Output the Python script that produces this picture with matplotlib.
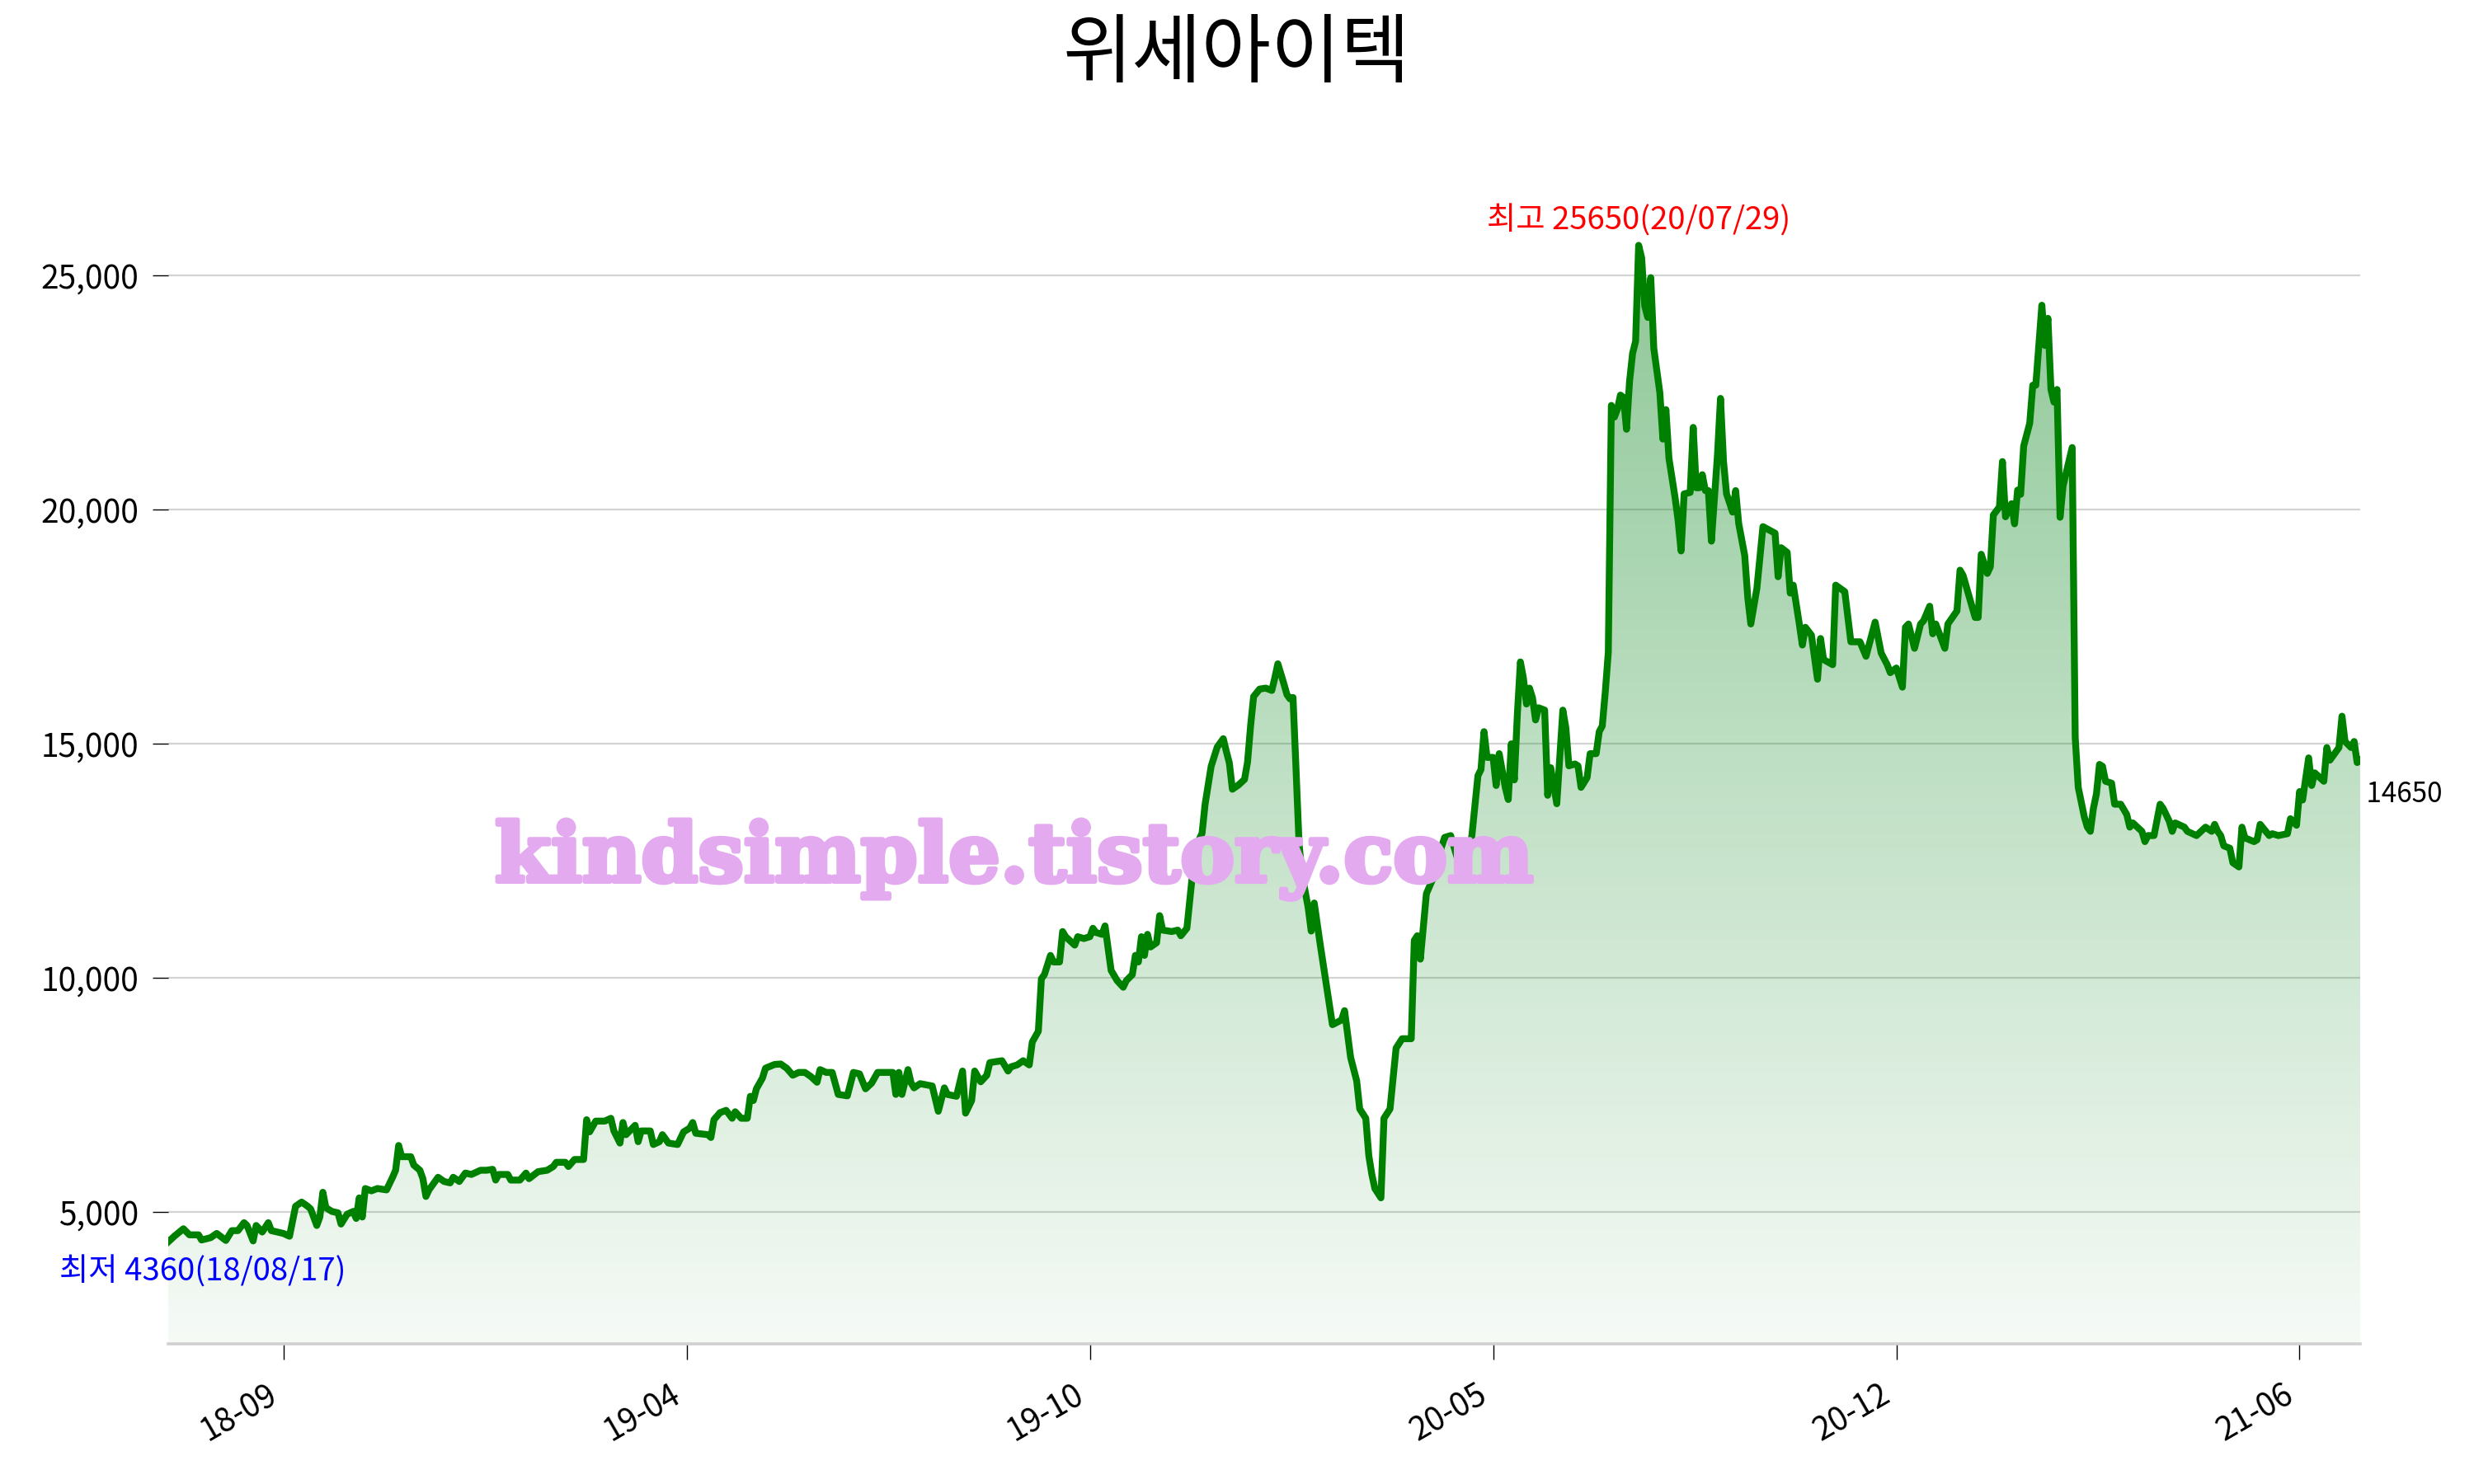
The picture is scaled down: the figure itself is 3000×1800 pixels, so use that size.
import numpy as np
import matplotlib
matplotlib.use('Agg')
import matplotlib.pyplot as plt
import matplotlib.patheffects as pe
from matplotlib.ticker import FuncFormatter

plt.rcParams['font.family'] = ['Noto Sans CJK KR', 'DejaVu Sans']

title = '위세아이텍'
watermark = 'kindsimple.tistory.com'
hi_date = '20/07/29'
lo_date = '18/08/17'

# trading-day index and closing price
days = [
    0, 2, 5, 7, 10, 11, 14, 16, 19, 21, 23, 25, 26, 28, 29, 31, 33, 34, 38, 40,
    42, 44, 46, 47, 49, 50, 51, 52, 54, 56, 57, 59, 61, 62, 63, 64, 65, 67, 69, 72,
    74, 75, 76, 77, 80, 81, 83, 84, 85, 86, 89, 91, 93, 94, 96, 98, 100, 103, 105, 107,
    108, 109, 112, 113, 116, 118, 119, 122, 125, 127, 128, 131, 132, 134, 137, 138, 139, 141, 144, 146,
    147, 149, 150, 151, 154, 155, 156, 159, 160, 162, 163, 165, 168, 170, 172, 173, 174, 178, 179, 180,
    182, 184, 186, 187, 189, 191, 192, 193, 194, 196, 197, 200, 202, 204, 206, 208, 210, 212, 214, 215,
    217, 219, 221, 224, 226, 228, 230, 232, 234, 236, 239, 240, 241, 242, 244, 245, 246, 248, 252, 254,
    256, 257, 260, 262, 263, 265, 266, 268, 270, 271, 275, 277, 278, 280, 282, 284, 285, 287, 288, 289,
    291, 292, 294, 295, 296, 299, 300, 302, 304, 305, 306, 308, 309, 311, 313, 315, 316, 318, 319, 320,
    321, 322, 323, 324, 326, 327, 328, 331, 333, 334, 336, 337, 338, 340, 341, 342, 344, 346, 348, 349,
    350, 351, 353, 355, 356, 357, 358, 360, 362, 364, 365, 366, 368, 369, 370, 371, 372, 373, 374, 376,
    377, 378, 380, 384, 387, 388, 390, 392, 393, 395, 396, 397, 398, 400, 401, 403, 405, 407, 410, 411,
    412, 413, 415, 417, 419, 421, 423, 425, 427, 429, 430, 432, 433, 434, 435, 437, 438, 439, 441, 442,
    443, 444, 445, 446, 447, 448, 449, 450, 451, 452, 454, 455, 456, 458, 460, 461, 462, 464, 465, 466,
    468, 469, 471, 472, 473, 474, 475, 476, 477, 478, 479, 480, 481, 482, 483, 484, 485, 486, 487, 488,
    489, 490, 492, 493, 494, 495, 497, 498, 499, 500, 502, 503, 504, 505, 506, 507, 508, 509, 511, 512,
    513, 514, 516, 517, 518, 520, 521, 522, 524, 526, 528, 530, 531, 532, 534, 535, 536, 538, 539, 540,
    542, 544, 545, 546, 549, 550, 553, 555, 558, 560, 563, 565, 567, 568, 570, 572, 573, 574, 576, 578,
    579, 581, 582, 583, 586, 587, 590, 591, 592, 596, 597, 598, 600, 601, 602, 604, 605, 606, 608, 609,
    610, 611, 612, 614, 615, 616, 618, 619, 620, 621, 622, 623, 624, 625, 628, 629, 630, 632, 633, 634,
    635, 636, 637, 638, 639, 641, 642, 644, 646, 647, 648, 651, 652, 653, 655, 657, 658, 660, 661, 662,
    665, 666, 669, 672, 674, 675, 676, 677, 678, 680, 681, 683, 684, 685, 688, 689, 690, 693, 694, 696,
    699, 700, 702, 703, 704, 706, 707, 708, 711, 712, 713, 714, 716, 717, 718, 720, 721, 722, 723,
]
prices = [
    4360, 4480, 4640, 4510, 4510, 4400, 4450, 4540, 4390, 4600, 4600, 4770, 4710, 4380, 4710, 4570, 4770, 4600, 4540, 4480,
    5120, 5210, 5120, 5060, 4710, 4890, 5420, 5090, 5010, 4980, 4740, 4950, 5010, 4860, 5300, 4890, 5500, 5450, 5500, 5470,
    5740, 5890, 6420, 6180, 6180, 6000, 5890, 5710, 5330, 5470, 5740, 5650, 5620, 5740, 5650, 5830, 5800, 5890, 5890, 5910,
    5680, 5800, 5800, 5680, 5680, 5830, 5710, 5860, 5890, 5970, 6060, 6060, 5970, 6120, 6120, 6970, 6710, 6940, 6940, 7000,
    6730, 6470, 6910, 6650, 6850, 6500, 6730, 6730, 6440, 6500, 6650, 6470, 6440, 6710, 6790, 6910, 6680, 6650, 6590, 6970,
    7120, 7170, 7000, 7140, 7000, 7000, 7470, 7380, 7630, 7860, 8070, 8150, 8160, 8070, 7920, 7980, 7980, 7890, 7770, 8040,
    7980, 7980, 7510, 7480, 7980, 7950, 7630, 7750, 7980, 7980, 7980, 7510, 7980, 7510, 8040, 7760, 7650, 7740, 7690, 7150,
    7650, 7510, 7470, 8010, 7110, 7380, 8010, 7780, 7920, 8190, 8230, 8010, 8100, 8140, 8230, 8140, 8630, 8860, 9980, 10070,
    10480, 10340, 10340, 10990, 10880, 10700, 10880, 10840, 10880, 11060, 10970, 10930, 11110, 10160, 9940, 9800, 9940, 10070, 10480, 10340,
    10880, 10480, 10930, 10660, 10750, 11330, 11020, 10990, 11020, 10900, 11060, 11690, 12320, 12950, 13090, 13710, 14520, 14930, 15110, 14840,
    14590, 14030, 14120, 14240, 14610, 15380, 16010, 16170, 16190, 16140, 16410, 16710, 16280, 16050, 15960, 15990, 14450, 12860, 12200, 11500,
    11000, 11600, 10700, 9000, 9100, 9300, 8300, 7800, 7200, 7000, 6200, 5800, 5500, 5300, 7000, 7200, 8500, 8700, 8700, 10800,
    10900, 10400, 11800, 12100, 12600, 13000, 13040, 12600, 12300, 12700, 13040, 14320, 14450, 15260, 14710, 14710, 14110, 14790, 14070, 13810,
    15000, 14230, 15640, 16750, 16400, 15850, 16190, 15980, 15510, 15770, 15720, 13900, 14490, 13720, 15720, 15340, 14530, 14570, 14530, 14070,
    14280, 14790, 14790, 15260, 15380, 16110, 16960, 22230, 21980, 22150, 22450, 22400, 21720, 22740, 23340, 23600, 25650, 25380, 24360, 24110,
    24960, 23450, 22500, 21510, 22140, 21100, 20270, 19780, 19120, 20340, 20370, 21760, 20470, 20470, 20750, 20410, 20410, 19330, 21170, 22380,
    21030, 20340, 19950, 20410, 19710, 19020, 18120, 17560, 18320, 19640, 19570, 19500, 18570, 19190, 19090, 18220, 18390, 17560, 17110, 17490,
    17320, 16380, 17250, 16800, 16690, 18390, 18250, 17180, 17180, 16870, 17600, 16940, 16690, 16520, 16620, 16210, 17490, 17560, 17040, 17560,
    17630, 17940, 17350, 17560, 17040, 17560, 17840, 18710, 18600, 17700, 17700, 19050, 18640, 18780, 19890, 20060, 21030, 19850, 20130, 19700,
    20420, 20330, 21360, 21850, 22660, 22660, 24370, 23510, 24090, 22570, 22300, 22570, 19840, 20510, 21330, 15140, 14070, 13440, 13220, 13130,
    13620, 13930, 14560, 14520, 14200, 14160, 13710, 13710, 13490, 13220, 13310, 13130, 12910, 13040, 13040, 13710, 13620, 13350, 13130, 13310,
    13220, 13130, 13040, 13220, 13130, 13280, 13130, 13040, 12820, 12770, 12460, 12370, 13220, 12990, 12910, 12950, 13280, 13040, 13080, 13040,
    13080, 13400, 13260, 13980, 13800, 14700, 14110, 14380, 14200, 14920, 14650, 14740, 14920, 15590, 15050, 14920, 15050, 14600, 14650,
]

tick_days = [38, 171, 304, 437, 570, 703]
tick_labels = ['18-09', '19-04', '19-10', '20-05', '20-12', '21-06']
y_ticks = [5000, 10000, 15000, 20000, 25000]

days = np.array(days)
prices = np.array(prices)

hi = prices.max()
lo = prices.min()
ymin, ymax = lo * 0.5, hi * 1.1

fig = plt.figure(figsize=(15, 9), dpi=200)
ax = fig.add_axes([0.068, 0.0944, 0.886, 0.8212])

# gradient fill under the line
fill = ax.fill_between(days, prices, ymin, facecolor='none', edgecolor='none')
t = np.linspace(0, 1, 256)
grad = np.zeros((256, 1, 4))
grad[:, 0, 0] = 0.02
grad[:, 0, 1] = 0.52
grad[:, 0, 2] = 0.10
grad[:, 0, 3] = 0.04 + 0.46 * t
img = ax.imshow(grad, extent=[days[0], days[-1], ymin, ymax], origin='lower',
                aspect='auto', zorder=1)
img.set_clip_path(fill.get_paths()[0], transform=ax.transData)

ax.plot(days, prices, color='green', lw=3.0, zorder=3, solid_joinstyle='round')

ax.set_xlim(days[0], days[-1])
ax.set_ylim(ymin, ymax)

ax.set_yticks(y_ticks)
ax.yaxis.set_major_formatter(FuncFormatter(lambda v, p: f'{int(v):,}'))
ax.grid(axis='y', color='#d3d3d3', lw=0.8, zorder=0)
ax.set_axisbelow(True)

ax.set_xticks(tick_days)
ax.set_xticklabels(tick_labels, rotation=30, ha='right')
ax.tick_params(axis='x', length=7, width=0.5, pad=8, labelsize=14)
ax.tick_params(axis='y', length=7, width=0.5, pad=6, labelsize=14)

for s in ['top', 'right', 'left']:
    ax.spines[s].set_visible(False)
ax.spines['bottom'].set_color('#d0d0d0')
ax.spines['bottom'].set_linewidth(1.3)

i_hi = prices.argmax()
i_lo = prices.argmin()
ax.text(days[i_hi], hi * 1.02, f'최고 {hi}({hi_date})', color='red', fontsize=13.8,
        ha='center', va='center')
ax.annotate(f'최저 {lo}({lo_date})', (days[i_lo], lo * 0.85), xytext=(15, 0),
            textcoords='offset points', color='blue', fontsize=13.8,
            ha='center', va='center', annotation_clip=False)
ax.text(days[-1], prices[-1] * 0.95, f' {prices[-1]}', color='black', fontsize=12,
        ha='left', va='center')

fig.text(0.5, 0.963, title, ha='center', va='center', fontsize=33)
fig.text(0.41, 0.421, watermark, ha='center', va='center', fontsize=35.5,
         family='DejaVu Serif', weight='bold', color='#e4aaf0', zorder=10,
         path_effects=[pe.withStroke(linewidth=2, foreground='#e4aaf0')])

fig.savefig('out.png', dpi=200)
